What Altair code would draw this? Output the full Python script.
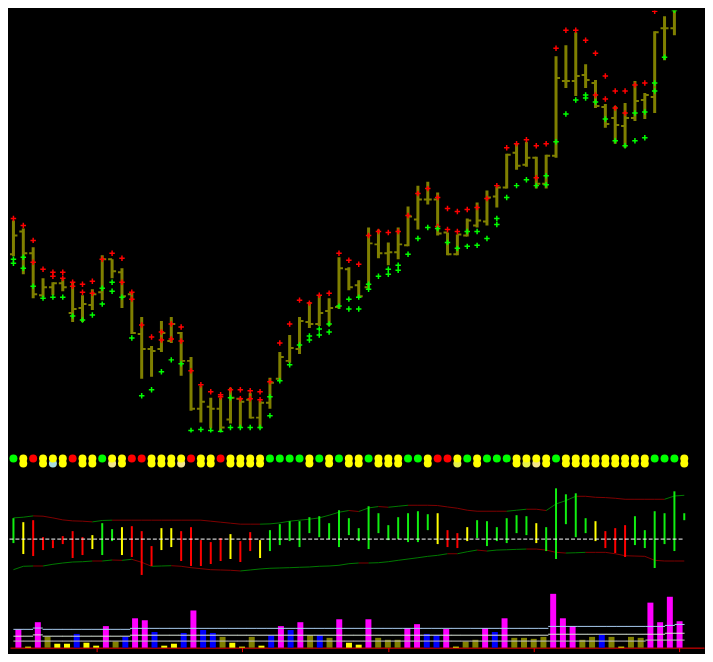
import altair as alt
import pandas as pd

# ---------------- price bars (68 visible bars) ----------------
bar_high = [221, 213, 194, 163, 159, 162, 159, 146, 152, 186,
            182, 173, 149, 124, 95, 120, 124, 109, 84, 55,
            43, 43, 53, 43, 48, 40, 63, 89, 106, 124,
            139, 146, 143, 184, 174, 161, 214, 212, 199, 214,
            235, 256, 260, 249, 209, 207, 223, 239, 251, 255,
            288, 298, 300, 285, 287, 386, 397, 410, 378, 362,
            338, 336, 339, 361, 349, 411, 426, 445]
bar_low = [185, 167, 143, 144, 146, 150, 119, 119, 131, 141,
           163, 133, 107, 62, 64, 89, 98, 65, 30, 18,
           12, 9, 17, 13, 22, 12, 32, 60, 78, 87,
           113, 115, 115, 132, 151, 144, 152, 183, 176, 182,
           195, 212, 237, 206, 186, 186, 205, 214, 216, 234,
           253, 272, 275, 253, 253, 284, 354, 346, 354, 334,
           314, 298, 294, 321, 323, 329, 382, 407]
bar_open = [187, 210, 188, 146, 154, 158, 128, 133, 136, 149,
            182, 169, 147, 107, 92, 92, 100, 108, 80, 32,
            34, 32, 21, 42, 41, 23, 38, 62, 80, 92,
            119, 117, 130, 134, 172, 156, 154, 197, 188, 189,
            196, 222, 242, 242, 209, 187, 206, 216, 220, 245,
            254, 289, 277, 284, 258, 286, 361, 361, 367, 359,
            335, 324, 316, 324, 342, 345, 414, 414]
bar_close = [206, 188, 147, 154, 158, 154, 132, 137, 147, 182,
             170, 145, 108, 92, 90, 108, 117, 80, 32, 39,
             32, 13, 43, 39, 23, 38, 58, 84, 93, 120,
             117, 128, 133, 173, 154, 145, 198, 188, 189, 197,
             225, 242, 242, 208, 187, 207, 221, 221, 244, 254,
             287, 276, 284, 258, 286, 364, 361, 366, 362, 336,
             318, 317, 324, 341, 347, 410, 414, 442]

red_marks = [[223], [216], [201, 179], [172], [169, 165], [169, 163], [159, 155], [157, 149], [160, 148], [182],
             [188], [183, 159], [149, 142], [116], [104], [109, 101], [117, 102], [114, 100], [70], [56],
             [49], [46, 44], [51], [51, 42], [50, 42], [49, 41], [59], [98], [117], [141],
             [138], [146], [148], [188], [181], [177], [206], [210], [209], [210],
             [226], [248], [253], [244, 215], [233, 212], [230, 210], [232], [234], [243], [256],
             [294], [298], [302], [296, 264], [298], [394], [412], [412], [402], [389, 347],
             [366, 343], [351, 334], [351, 329], [357], [359], [431], [], []]
green_marks = [[182, 178], [184, 173], [155], [143], [144], [144], [125], [121], [126], [153, 137],
               [159, 150], [144], [103], [45], [51], [69], [81], [77], [10], [11],
               [10], [9], [43, 13], [13], [13], [13], [44, 25], [60], [76], [96],
               [105, 101], [112, 106], [117, 109], [135], [142, 132], [144, 132], [157, 152], [165], [172, 167], [176, 171],
               [187], [203], [214], [213], [199], [193], [210, 195], [210, 196], [203], [223, 217],
               [244], [256], [262], [256], [266, 257], [300], [328], [342], [347, 344], [340],
               [323], [301], [296], [329, 301], [330, 304], [359, 351], [385], [432]]

# ---------------- signal dots (69) ----------------
dot_top = list("GYRYYYRYYG" "YYRRYYYYRY" "YRYYYYGGGG" "YGYGYYGYYY"
               "GGYRRYGYGG" "GYYYYGYYYY" "YYYYYGGGY")
dot_low_special = {4: "LB", 10: "PK", 17: "PK", 45: "YG", 52: "YG", 53: "PK"}

# ---------------- oscillator (69) ----------------
osc_top = [21, 17, 19, 2, -1, 3, 8, 2, 4, 16,
           10, 12, 13, 8, -7, 11, 11, 8, 12, -1,
           -3, 1, 5, -2, 7, -1, 9, 15, 18, 18,
           22, 23, 16, 29, 21, 11, 33, 26, 14, 22,
           26, 28, 25, 26, 9, 6, 12, 19, 18, 12,
           21, 24, 23, 16, 12, 51, 45, 46, 21, 18,
           8, 11, 14, 23, 9, 28, 26, 48, 26]
osc_bot = [-4, -15, -17, -11, -9, -5, -19, -16, -10, -16,
           -2, -16, -18, -36, -27, -11, -8, -22, -27, -27,
           -25, -22, -20, -23, -12, -19, -12, -6, -2, -8,
           6, 2, 0, -8, 4, -2, -10, 6, -1, 0,
           -3, -3, 9, -5, -8, -9, -2, 1, -7, -2,
           -4, 6, 4, -4, -12, -20, 15, 2, 6, -2,
           -9, -14, -18, -6, -9, -29, -5, -12, 19]
osc_col = list("GYRRRRRRYG" "GYRRRYYRRR" "RRYRRYGGGG" "GGGGGGGGGG"
               "GGGYRRYGGG" "GGGYGGGGGY" "RRRGGGGGG")
band_up = [21.3, 22, 23.3, 23, 21.3, 19.3, 18.3, 18, 17.3, 18.7,
           19, 19, 19, 19, 19, 19, 19, 19, 19, 19,
           18, 17, 16, 15, 15, 15, 15.3, 16.3, 18, 19,
           20, 21.3, 24, 27, 28.7, 27.7, 31.3, 32.7, 32, 33,
           34, 34, 34, 33.7, 32.3, 31, 29, 28, 28, 28,
           28, 29, 30, 30, 28.7, 35.3, 38.7, 43, 43, 42,
           41.7, 41, 40, 40, 40, 40, 40, 43.3, 44]
band_dn = [-30.7, -27.3, -27, -27, -25.3, -24, -23, -22.7, -22, -22,
           -21, -21.3, -20.3, -23.3, -27.3, -27, -26.7, -27.3, -28.7, -29.7,
           -30.7, -31, -31.3, -32, -31, -30, -29.3, -29, -28.7, -28.3,
           -28, -27.3, -27, -26.3, -24.7, -24, -24, -23.7, -22.7, -21.3,
           -20, -18.7, -17.3, -16.3, -14.7, -14.7, -12.7, -11, -12, -11,
           -10.7, -10.3, -10, -10, -11, -13.3, -14, -13.7, -13.3, -13.3,
           -13.3, -14.7, -16.7, -17, -17.3, -21.3, -22, -22, -22]

# ---------------- volume (69) ----------------
volume = [18.7, 1, 26, 11.3, 4, 4, 14, 5, 2, 22,
          6.3, 11.3, 30, 28, 16, 2, 4, 15, 38, 18,
          15, 11, 5, 1, 11, 2, 12.7, 22, 18, 26,
          12.7, 12.7, 10, 29, 5, 3, 29, 10, 8, 8,
          20, 24, 14, 12.7, 19, 1, 6.3, 8, 20, 16,
          30, 10, 10, 9, 11, 55, 30, 22, 8, 11,
          13, 11, 1, 11, 10, 46, 26, 52, 27]
vol_col = list("MYMOYYBYYM" "OBMMBYYBMB" "BOYYOYBMBM" "OBOMYYMOOO"
               "MMBBMYOOMB" "MOOOOMMMOO" "BOYOOMMMM")
lvl1_values, lvl1_runs = [18.7, 20.0, 18.7, 19.7, 21.7, 22.7, 23.7], [2, 1, 9, 43, 12, 1, 1]
lvl2_values, lvl2_runs = [11.7, 13.0, 11.7, 12.7, 13.7, 14.7], [2, 1, 9, 43, 12, 2]
lvl3_values, lvl3_runs = [6.7, 7.7], [65, 4]
axis_ticks = [8, 23, 38, 53, 68]

# ---------------- build tables ----------------
n = len(volume)
price = pd.DataFrame({"k": range(len(bar_high)), "high": bar_high, "low": bar_low,
                      "open": bar_open, "close": bar_close})
reds = pd.DataFrame([{"k": k, "v": v} for k, lst in enumerate(red_marks) for v in lst])
greens = pd.DataFrame([{"k": k, "v": v} for k, lst in enumerate(green_marks) for v in lst])

dots = pd.DataFrame({"k": range(n), "dc": ["d" + c for c in dot_top]})
low_dots = pd.DataFrame([{"k": k, "dc": "d" + dot_low_special.get(k, "Y")}
                         for k, c in enumerate(dot_top) if c == "Y"])

osc = pd.DataFrame({"k": range(n), "top": osc_top, "bot": osc_bot,
                    "dc": ["o" + c for c in osc_col]})
segs = []
for name, arr in (("up", band_up), ("dn", band_dn)):
    for k in range(n - 1):
        segs.append({"k": k, "k2": k + 1, "v": arr[k], "v2": arr[k + 1],
                     "dc": "rise" if arr[k + 1] > arr[k] else "fall"})
bands = pd.DataFrame(segs)
zero = pd.DataFrame({"k": [0], "k2": [n - 1], "v": [0]})

vol = pd.DataFrame({"k": range(n), "v": volume, "dc": ["v" + c for c in vol_col]})
lv = []
for name, vals, runs in (("l1", lvl1_values, lvl1_runs), ("l2", lvl2_values, lvl2_runs),
                         ("l3", lvl3_values, lvl3_runs)):
    k = 0
    for val, r in zip(vals, runs):
        for _ in range(r):
            lv.append({"k": k, "v": val, "dc": name})
            k += 1
levels = pd.DataFrame(lv)

# one shared colour scale for every categorical code
palette = {
    "dG": "#00FF00", "dY": "#FFFF00", "dR": "#FF0000", "dLB": "#A8DCE0", "dPK": "#F2E48C", "dYG": "#E4F04C",
    "oG": "#11EE11", "oY": "#FFFF00", "oR": "#FF0000",
    "rise": "#007A00", "fall": "#800000",
    "vM": "#FF00FF", "vO": "#808000", "vB": "#0000FF", "vY": "#FFFF00",
    "l1": "#A8CCF0", "l2": "#DCE6DA", "l3": "#C4C4C4",
}
CS = alt.Scale(domain=list(palette.keys()), range=list(palette.values()))
COLOR = alt.Color("dc:N", scale=CS, legend=None)

# ---------------- chart ----------------
W = 697
xs = alt.Scale(domain=[-0.35, 70.0], nice=False, zero=False)
X = alt.X("k:Q", scale=xs, axis=None)
OLIVE = "#808000"
cross = "M-1,0L1,0M0,-1L0,1"

py = alt.Scale(domain=[8, 432], nice=False, zero=False)
pbase = alt.Chart(price)
p_bar = pbase.mark_rule(color=OLIVE, strokeWidth=3, clip=True).encode(
    x=X, y=alt.Y("low:Q", scale=py, axis=None), y2="high:Q")
p_open = pbase.mark_rule(color=OLIVE, strokeWidth=2, xOffset=-4, x2Offset=0, clip=True).encode(
    x=X, x2="k:Q", y=alt.Y("open:Q", scale=py, axis=None))
p_close = pbase.mark_rule(color=OLIVE, strokeWidth=2, xOffset=0, x2Offset=4, clip=True).encode(
    x=X, x2="k:Q", y=alt.Y("close:Q", scale=py, axis=None))
p_red = alt.Chart(reds).mark_point(shape=cross, filled=False, size=30, strokeWidth=1.5,
                                   color="#FF0000", opacity=1, clip=True).encode(
    x=X, y=alt.Y("v:Q", scale=py, axis=None))
p_green = alt.Chart(greens).mark_point(shape=cross, filled=False, size=30, strokeWidth=1.5,
                                       color="#00FF00", opacity=1, clip=True).encode(
    x=X, y=alt.Y("v:Q", scale=py, axis=None))
price_panel = alt.layer(p_bar, p_open, p_close, p_red, p_green).properties(width=W, height=424)

d_low = alt.Chart(low_dots).mark_point(shape="circle", filled=True, size=64, opacity=1).encode(
    x=X, y=alt.value(29), color=COLOR)
d_top = alt.Chart(dots).mark_point(shape="circle", filled=True, size=64, opacity=1).encode(
    x=X, y=alt.value(24), color=COLOR)
dot_panel = alt.layer(d_low, d_top).properties(width=W, height=34)

oy = alt.Scale(domain=[-51, 69], nice=False, zero=False)
o_bands = alt.Chart(bands).mark_rule(strokeWidth=1).encode(
    x=X, x2="k2:Q", y=alt.Y("v:Q", scale=oy, axis=None), y2="v2:Q", color=COLOR)
o_bars = alt.Chart(osc).mark_rule(strokeWidth=2).encode(
    x=X, y=alt.Y("bot:Q", scale=oy, axis=None), y2="top:Q", color=COLOR)
o_zero = alt.Chart(zero).mark_rule(color="#FFFFFF", strokeWidth=1, strokeDash=[4, 2],
                                   xOffset=-4, x2Offset=0).encode(
    x=X, x2="k2:Q", y=alt.Y("v:Q", scale=oy, axis=None))
osc_panel = alt.layer(o_bands, o_bars, o_zero).properties(width=W, height=120)

vy = alt.Scale(domain=[0, 57], nice=False, zero=True)
vx_axis = alt.X("k:Q", scale=xs, title=None,
                axis=alt.Axis(values=axis_ticks, labels=False, grid=False, domainColor="#FF0000",
                              tickColor="#FF0000", tickSize=4, domainWidth=1, tickWidth=1))
v_bars = alt.Chart(vol).mark_bar(size=6).encode(
    x=vx_axis, y=alt.Y("v:Q", scale=vy, axis=None), color=COLOR)
v_lines = alt.Chart(levels).mark_rule(strokeWidth=1, xOffset=-5, x2Offset=5).encode(
    x=vx_axis, x2="k:Q", y=alt.Y("v:Q", scale=vy, axis=None), color=COLOR)
vol_panel = alt.layer(v_bars, v_lines).properties(width=W, height=56)

chart = alt.vconcat(price_panel, dot_panel, osc_panel, vol_panel, spacing=0).properties(
    padding=0, background="#000000"
).configure_view(stroke="transparent")

chart.save("out.html", embed_options={"renderer": "svg", "actions": False})
